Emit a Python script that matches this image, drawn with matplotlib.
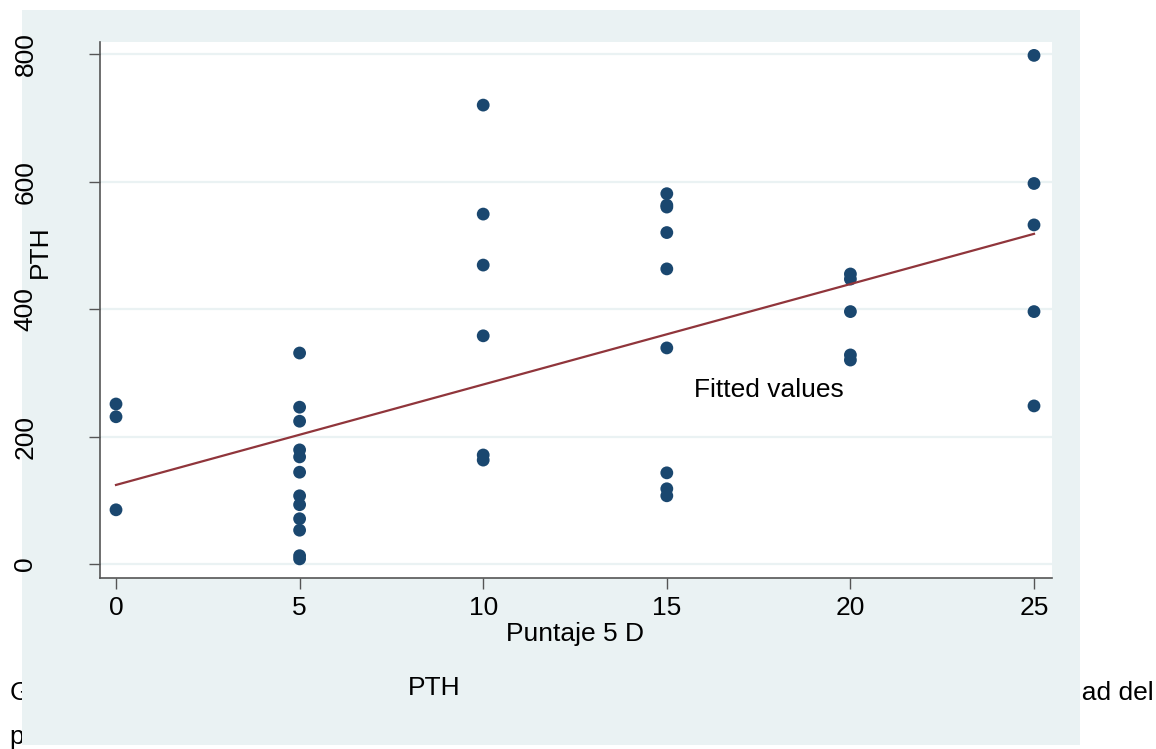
import numpy as np
import matplotlib.pyplot as plt
from matplotlib.patches import Rectangle

plt.rcParams['font.family'] = ['Liberation Sans', 'DejaVu Sans']

# puntaje 5D groups and PTH values
puntaje = [0, 5, 10, 15, 20, 25]
pth = [
    [251, 231, 85],
    [331, 246, 224, 179, 168, 144, 107, 93, 71, 53, 13, 8],
    [720, 549, 469, 358, 171, 163],
    [581, 563, 560, 520, 463, 339, 143, 118, 107],
    [455, 447, 396, 328, 320],
    [798, 597, 532, 396, 248],
]
fit_x = [0, 25]
fit_y = [124, 518]

xticks = [0, 5, 10, 15, 20, 25]
yticks = [0, 200, 400, 600, 800]

navy = '#1A476F'
maroon = '#90353B'
panel = '#EAF2F3'
fs = 19

W, H = 1156, 749
fig = plt.figure(figsize=(W / 100, H / 100), dpi=100, facecolor='white')

def fx(px):
    return px / W

def fy(py):
    return 1 - py / H

# caption text lying behind the graph panel
fig.text(fx(10), fy(693), 'Gráfico 2. Correlación entre los niveles de PTH', fontsize=fs,
         ha='left', va='center', zorder=0)
fig.text(fx(1154), fy(693), 'y la intensidad del', fontsize=fs,
         ha='right', va='center', zorder=0)
fig.text(fx(10), fy(737), 'prurito definida mediante la escala 5D.', fontsize=fs,
         ha='left', va='center', zorder=0)

# graph panel background
fig.patches.append(Rectangle((fx(22), fy(745)), fx(1080) - fx(22), fy(10) - fy(745),
                             transform=fig.transFigure, facecolor=panel,
                             edgecolor='none', zorder=0.5))

ax = fig.add_axes([fx(100), fy(578), fx(1052) - fx(100), fy(42) - fy(578)], zorder=1)
ax.set_facecolor('white')

xs = np.concatenate([[p] * len(v) for p, v in zip(puntaje, pth)])
ys = np.concatenate(pth)
ax.scatter(xs, ys, s=85, color=navy, edgecolors='none', zorder=3)
ax.plot(fit_x, fit_y, color=maroon, lw=1.6, zorder=4)

ax.set_xlim(-0.436, 25.49)
ax.set_ylim(-22, 819)
ax.set_xticks(xticks)
ax.set_yticks(yticks)
ax.grid(axis='y', color=panel, lw=1.6, zorder=1)
ax.set_axisbelow(True)

for s in ['top', 'right']:
    ax.spines[s].set_visible(False)
for s in ['left', 'bottom']:
    ax.spines[s].set_color('#555555')
    ax.spines[s].set_linewidth(1.2)

ax.tick_params(axis='both', length=8, width=1.0, color='#555555', labelsize=fs,
               labelcolor='black')
ax.tick_params(axis='x', pad=5)
ax.tick_params(axis='y', labelrotation=90, pad=37)
for lab in ax.get_yticklabels():
    lab.set_va('center')

ax.set_xlabel('Puntaje 5 D', fontsize=fs)
ax.xaxis.set_label_coords((575 - 100) / 952, (578 - 622) / 536)

fig.text(fx(40), fy(252), 'PTH', rotation=90, fontsize=fs, ha='center', va='center', zorder=3)
fig.text(fx(769), fy(390), 'Fitted values', fontsize=fs, ha='center', va='center', zorder=3)
fig.text(fx(434), fy(688), 'PTH', fontsize=fs, ha='center', va='center', zorder=3)

fig.savefig('out.png', dpi=100, facecolor='white')
